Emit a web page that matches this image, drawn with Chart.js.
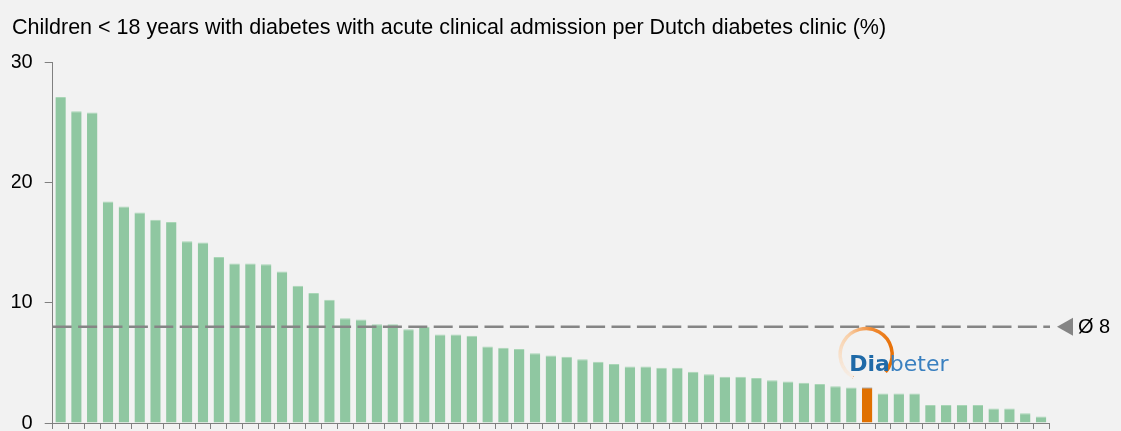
<!DOCTYPE html>
<html>

<head>
  <title>Acute clinical admission per Dutch diabetes clinic</title>
  <script src="https://cdn.jsdelivr.net/npm/chart.js@4.4.1/dist/chart.umd.min.js"></script>
  <style>
    html, body { margin: 0; padding: 0; background: #f2f2f2; overflow: hidden; }
    #wrap { width: 1121px; height: 431px; position: relative; }
  </style>
</head>

<body>
  <div id="wrap"><canvas id="admissions"></canvas></div>

  <script>
    // Percentage of children < 18 with acute clinical admission, one bar per clinic (sorted)
    const admissionPct = [
      27.1, 25.9, 25.8, 18.4, 18.0, 17.5, 16.9, 16.7, 15.1, 15.0,
      13.8, 13.25, 13.25, 13.2, 12.6, 11.4, 10.8, 10.25, 8.7, 8.6,
      8.2, 8.2, 7.8, 8.0, 7.35, 7.35, 7.25, 6.35, 6.25, 6.15,
      5.8, 5.6, 5.5, 5.3, 5.1, 4.9, 4.7, 4.7, 4.6, 4.6,
      4.25, 4.05, 3.85, 3.85, 3.75, 3.55, 3.45, 3.35, 3.25, 3.05,
      2.95, 2.95, 2.45, 2.45, 2.45, 1.5, 1.5, 1.5, 1.5, 1.2,
      1.2, 0.8, 0.55
    ];
    const clinics = admissionPct.map((_, i) => 'Clinic ' + (i + 1));
    const diabeterIndex = 51;      // the highlighted clinic
    const averagePct = 8;
    const yTicks = [0, 10, 20, 30];
    const chartTitle = 'Children < 18 years with diabetes with acute clinical admission per Dutch diabetes clinic (%)';

    const barColors = admissionPct.map((_, i) => i === diabeterIndex ? '#e07000' : '#8fc7a1');
    const barBorders = admissionPct.map((_, i) => i === diabeterIndex ? '#6b6b6b' : '#a9d6b6');

    const axisGrey = '#808080';

    // dashed average line with the pointer and label on the right
    const averageLine = {
      id: 'averageLine',
      afterDatasetsDraw(chart) {
        const { ctx, chartArea, scales } = chart;
        const y = scales.y.getPixelForValue(averagePct);
        ctx.save();
        ctx.strokeStyle = '#858585';
        ctx.lineWidth = 2.5;
        ctx.setLineDash([19, 6.4]);
        ctx.beginPath();
        ctx.moveTo(chartArea.left, y);
        ctx.lineTo(chartArea.right + 1, y);
        ctx.stroke();

        ctx.setLineDash([]);
        ctx.fillStyle = '#858585';
        const tx = chartArea.right + 8;
        ctx.beginPath();
        ctx.moveTo(tx, y);
        ctx.lineTo(tx + 16, y - 9);
        ctx.lineTo(tx + 16, y + 9);
        ctx.closePath();
        ctx.fill();

        ctx.fillStyle = '#000';
        ctx.font = '20px "Liberation Sans", Arial, sans-serif';
        ctx.textBaseline = 'middle';
        ctx.fillText('Ø ' + averagePct, tx + 21, y + 1);
        ctx.restore();
      }
    };

    // Diabeter logo above the highlighted bar
    const diabeterLogo = {
      id: 'diabeterLogo',
      afterDatasetsDraw(chart) {
        const { ctx } = chart;
        const bar = chart.getDatasetMeta(0).data[diabeterIndex];
        const cx = bar.x - 1;
        const cy = bar.y - 33;
        const r = 26;
        const start = 120 * Math.PI / 180;
        const end = 402 * Math.PI / 180;

        ctx.save();
        const grad = ctx.createConicGradient(start, cx, cy);
        grad.addColorStop(0, 'rgba(250, 230, 212, 0.4)');
        grad.addColorStop(0.3, '#f8cfa8');
        grad.addColorStop(0.45, '#f08a33');
        grad.addColorStop(0.6, '#e8730c');
        grad.addColorStop(1, '#e46e05');
        ctx.strokeStyle = grad;
        ctx.lineWidth = 3.5;
        ctx.beginPath();
        ctx.arc(cx, cy, r, start, end);
        ctx.stroke();

        ctx.textBaseline = 'alphabetic';
        ctx.font = 'bold 22px "DejaVu Sans", Verdana, sans-serif';
        ctx.fillStyle = '#1f6aa8';
        const x0 = cx - 17;
        const base = cy + 16;
        ctx.fillText('Dia', x0, base);
        const w = ctx.measureText('Dia').width;
        ctx.font = '22px "DejaVu Sans", Verdana, sans-serif';
        ctx.fillStyle = '#3a80c0';
        ctx.fillText('beter', x0 + w, base);
        ctx.restore();
      }
    };

    new Chart(document.getElementById('admissions'), {
      type: 'bar',
      data: {
        labels: clinics,
        datasets: [{
          data: admissionPct,
          backgroundColor: barColors,
          borderColor: barBorders,
          borderWidth: { top: 1, left: 0, right: 0, bottom: 0 },
          borderSkipped: 'bottom',
          categoryPercentage: 1,
          barPercentage: 0.66
        }]
      },
      options: {
        responsive: true,
        maintainAspectRatio: false,
        animation: false,
        layout: { padding: { left: 12, right: 72, top: 0, bottom: 0 } },
        plugins: {
          legend: { display: false },
          tooltip: { enabled: false },
          title: {
            display: true,
            text: chartTitle,
            align: 'start',
            color: '#000',
            font: { family: '"Liberation Sans", Arial, sans-serif', size: 21.5, weight: 'normal', lineHeight: 1.2 },
            padding: { top: 15, bottom: 21.2 }
          }
        },
        scales: {
          x: {
            offset: true,
            grid: { display: true, drawOnChartArea: false, color: axisGrey, tickLength: 6, offset: true },
            border: { color: axisGrey, width: 1 },
            ticks: { display: false },
            afterFit(scale) { scale.height = 8; }
          },
          y: {
            min: 0,
            max: 30,
            afterBuildTicks(scale) { scale.ticks = yTicks.map(v => ({ value: v })); },
            grid: { drawOnChartArea: false, color: axisGrey, tickLength: 8 },
            border: { color: axisGrey, width: 1 },
            ticks: {
              color: '#000',
              padding: 12,
              font: { family: '"Liberation Sans", Arial, sans-serif', size: 20 }
            },
            afterFit(scale) {
              scale.width = 40.7;
              // let the "0" label run off the bottom edge, as in the source picture
              scale.paddingTop = 0;
              scale.paddingBottom = 0;
            }
          }
        }
      },
      plugins: [averageLine, diabeterLogo]
    });
  </script>
</body>

</html>
